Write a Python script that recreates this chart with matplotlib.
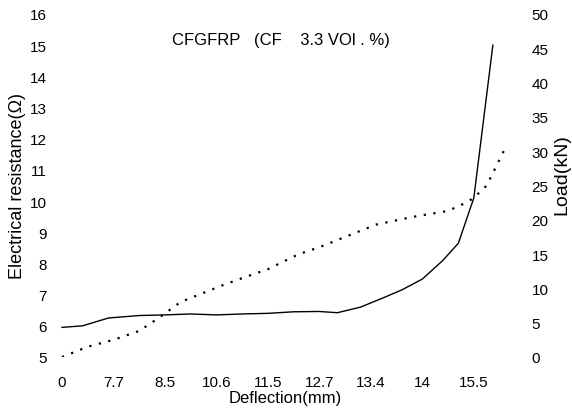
import matplotlib
matplotlib.use("Agg")
import matplotlib.pyplot as plt

# Data

X_LABELS = ["0", "7.7", "8.5", "10.6", "11.5", "12.7", "13.4", "14", "15.5"]

# resistance curve (category position, ohm)
RES_X = [0, 0.4, 0.9, 1.5, 2.0, 2.5, 3.0, 3.5, 4.0, 4.5, 5.0, 5.35, 5.8, 6.2, 6.6, 7.0, 7.4, 7.7, 8.0, 8.37]
RES_Y = [5.95, 6.0, 6.25, 6.33, 6.35, 6.38, 6.35, 6.38, 6.4, 6.45, 6.46, 6.42, 6.6, 6.87, 7.15, 7.5, 8.1, 8.65, 10.1, 15.0]

# load curve (category position, kN)
LOAD_X = [0, 0.5, 1.0, 1.5, 1.9, 2.3, 2.7, 3.1, 3.5, 4.0, 4.6, 5.0, 5.4, 6.1, 6.8, 7.5, 7.85, 8.0, 8.25, 8.6]
LOAD_Y = [0, 1.5, 2.5, 3.8, 5.8, 8.0, 9.2, 10.4, 11.5, 12.8, 15.0, 16.0, 17.2, 19.3, 20.4, 21.3, 22.5, 23.2, 25.0, 30.3]

plt.rcParams.update({
    "font.family": ["Liberation Sans", "DejaVu Sans"],
    "font.size": 11,
})

fig = plt.figure(figsize=(5.72, 4.14), dpi=100)
ax = fig.add_axes([55 / 572, 1 - 358 / 414, 460 / 572, 343 / 414])
ax2 = ax.twinx()

ax.plot(RES_X, RES_Y, color="black", linewidth=1.0)
ax2.plot(LOAD_X, LOAD_Y, color="black", linewidth=1.6, linestyle=(0, (1, 3.4)))

ax.set_xlim(-0.136, 8.8)
ax.set_ylim(5, 16)
ax2.set_ylim(0, 50)

ax.set_xticks(range(len(X_LABELS)))
ax.set_xticklabels(X_LABELS)
ax.set_yticks(range(5, 17))
ax2.set_yticks(range(0, 51, 5))

ax.tick_params(axis="both", length=0, labelsize=11)
ax.tick_params(axis="y", pad=6)
ax.tick_params(axis="x", pad=13)
ax2.tick_params(axis="y", length=0, pad=12, labelsize=11)

for a in (ax, ax2):
    for s in a.spines.values():
        s.set_visible(False)

ax.set_xlabel("Deflection(mm)", fontsize=12, labelpad=1)
ax.set_ylabel("Electrical resistance(Ω)", fontsize=13)
ax.yaxis.set_label_coords(-0.062, 0.5)
ax2.set_ylabel("Load(kN)", fontsize=14)
ax2.yaxis.set_label_coords(1.083, 0.534)

fig.text(281 / 572, 1 - 40 / 414, "CFGFRP   (CF    3.3 VOl . %)",
         ha="center", va="center", fontsize=12)

fig.savefig("out.png", dpi=100, facecolor="white")
